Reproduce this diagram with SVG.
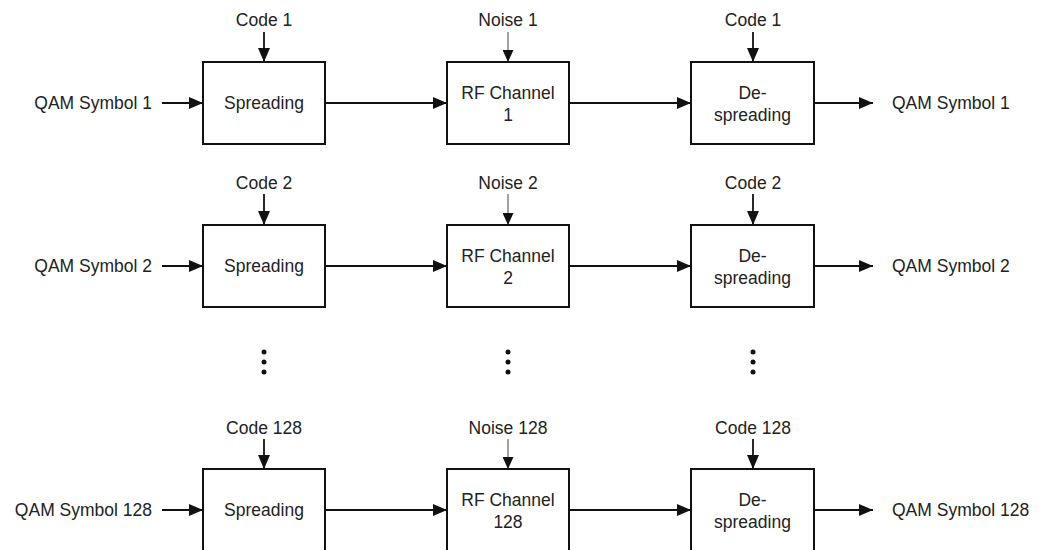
<svg xmlns="http://www.w3.org/2000/svg" width="1041" height="550" viewBox="0 0 1041 550">
<style>
  .box{fill:#fff;stroke:#111;stroke-width:2}
  .t{font-family:"Liberation Sans",Arial,sans-serif;font-size:17.5px;fill:#222}
  .m{text-anchor:middle}
  .e{text-anchor:end}
  .c{stroke:#111;stroke-width:1.8;fill:none;marker-end:url(#ah)}
  .n{stroke:#444;stroke-width:1;fill:none;marker-end:url(#ahs)}
  .dot{fill:#111}
</style>
<defs>
  <marker id="ah" markerUnits="userSpaceOnUse" markerWidth="14" markerHeight="12" refX="14" refY="6" orient="auto">
    <path d="M0,0 L14,6 L0,12 z" fill="#111"/>
  </marker>
  <marker id="ahs" markerUnits="userSpaceOnUse" markerWidth="12" markerHeight="11" refX="12" refY="5.5" orient="auto">
    <path d="M0,0 L12,5.5 L0,11 z" fill="#111"/>
  </marker>
</defs>
<rect width="1041" height="550" fill="#fff"/>

<g id="connectors">
  <!-- row 1 -->
  <line class="c" x1="162" y1="103" x2="203" y2="103"/>
  <line class="c" x1="264" y1="32" x2="264" y2="62"/>
  <line class="n" x1="508" y1="32" x2="508" y2="62"/>
  <line class="c" x1="753" y1="32" x2="753" y2="62"/>
  <line class="c" x1="325" y1="103" x2="447" y2="103"/>
  <line class="c" x1="569" y1="103" x2="691" y2="103"/>
  <line class="c" x1="814" y1="103" x2="873" y2="103"/>
  <!-- row 2 -->
  <line class="c" x1="162" y1="266" x2="203" y2="266"/>
  <line class="c" x1="264" y1="194" x2="264" y2="225"/>
  <line class="n" x1="508" y1="194" x2="508" y2="225"/>
  <line class="c" x1="753" y1="194" x2="753" y2="225"/>
  <line class="c" x1="325" y1="266" x2="447" y2="266"/>
  <line class="c" x1="569" y1="266" x2="691" y2="266"/>
  <line class="c" x1="814" y1="266" x2="873" y2="266"/>
  <!-- row 3 -->
  <line class="c" x1="162" y1="510" x2="203" y2="510"/>
  <line class="c" x1="264" y1="439" x2="264" y2="469"/>
  <line class="n" x1="508" y1="439" x2="508" y2="469"/>
  <line class="c" x1="753" y1="439" x2="753" y2="469"/>
  <line class="c" x1="325" y1="510" x2="447" y2="510"/>
  <line class="c" x1="569" y1="510" x2="691" y2="510"/>
  <line class="c" x1="814" y1="510" x2="873" y2="510"/>
</g>

<!-- row 1 -->
<g id="in1"><text class="t e" x="152" y="109">QAM Symbol 1</text></g>
<g id="code1a"><text class="t m" x="264" y="26">Code 1</text></g>
<g id="noise1"><text class="t m" x="508" y="26">Noise 1</text></g>
<g id="code1b"><text class="t m" x="753" y="26">Code 1</text></g>
<g id="spread1"><rect class="box" x="203" y="62" width="122" height="82"/><text class="t m" x="264" y="109">Spreading</text></g>
<g id="rf1"><rect class="box" x="447" y="62" width="122" height="82"/><text class="t m" x="508" y="99">RF Channel</text><text class="t m" x="508" y="121">1</text></g>
<g id="despread1"><rect class="box" x="691" y="62" width="123" height="82"/><text class="t m" x="752.5" y="99">De-</text><text class="t m" x="752.5" y="121">spreading</text></g>
<g id="out1"><text class="t" x="892" y="109">QAM Symbol 1</text></g>

<!-- row 2 -->
<g id="in2"><text class="t e" x="152" y="272">QAM Symbol 2</text></g>
<g id="code2a"><text class="t m" x="264" y="189">Code 2</text></g>
<g id="noise2"><text class="t m" x="508" y="189">Noise 2</text></g>
<g id="code2b"><text class="t m" x="753" y="189">Code 2</text></g>
<g id="spread2"><rect class="box" x="203" y="225" width="122" height="82"/><text class="t m" x="264" y="272">Spreading</text></g>
<g id="rf2"><rect class="box" x="447" y="225" width="122" height="82"/><text class="t m" x="508" y="262">RF Channel</text><text class="t m" x="508" y="284">2</text></g>
<g id="despread2"><rect class="box" x="691" y="225" width="123" height="82"/><text class="t m" x="752.5" y="262">De-</text><text class="t m" x="752.5" y="284">spreading</text></g>
<g id="out2"><text class="t" x="892" y="272">QAM Symbol 2</text></g>

<!-- ellipsis -->
<g id="dots">
  <circle class="dot" cx="264" cy="352" r="2.5"/><circle class="dot" cx="264" cy="362" r="2.5"/><circle class="dot" cx="264" cy="372" r="2.5"/>
  <circle class="dot" cx="508" cy="352" r="2.5"/><circle class="dot" cx="508" cy="362" r="2.5"/><circle class="dot" cx="508" cy="372" r="2.5"/>
  <circle class="dot" cx="753" cy="352" r="2.5"/><circle class="dot" cx="753" cy="362" r="2.5"/><circle class="dot" cx="753" cy="372" r="2.5"/>
</g>

<!-- row 3 -->
<g id="in3"><text class="t e" x="152" y="516">QAM Symbol 128</text></g>
<g id="code3a"><text class="t m" x="264" y="434">Code 128</text></g>
<g id="noise3"><text class="t m" x="508" y="434">Noise 128</text></g>
<g id="code3b"><text class="t m" x="753" y="434">Code 128</text></g>
<g id="spread3"><rect class="box" x="203" y="469" width="122" height="82"/><text class="t m" x="264" y="516">Spreading</text></g>
<g id="rf3"><rect class="box" x="447" y="469" width="122" height="82"/><text class="t m" x="508" y="506">RF Channel</text><text class="t m" x="508" y="528">128</text></g>
<g id="despread3"><rect class="box" x="691" y="469" width="123" height="82"/><text class="t m" x="752.5" y="506">De-</text><text class="t m" x="752.5" y="528">spreading</text></g>
<g id="out3"><text class="t" x="892" y="516">QAM Symbol 128</text></g>
</svg>
